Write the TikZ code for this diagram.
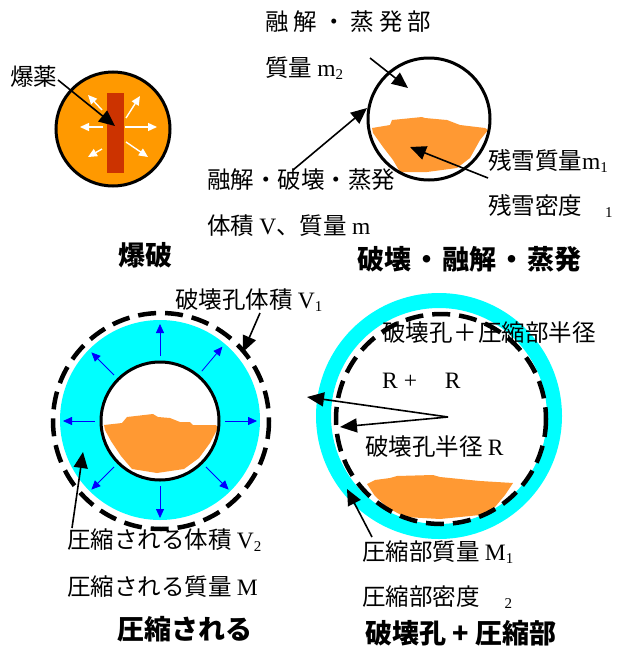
\documentclass[tikz,border=0pt]{standalone}
\usepackage{fontspec}
\usetikzlibrary{arrows.meta}
\newfontfamily\jp{Noto Sans CJK JP}
\newfontfamily\lat{Liberation Serif}
\definecolor{bomb}{HTML}{FF9900}
\definecolor{charge}{HTML}{CC3300}
\definecolor{snow}{HTML}{FF9933}
\definecolor{ice}{HTML}{00FFFF}
\newcommand{\lt}[1]{{\lat #1}}
\newcommand{\lsub}[1]{\raisebox{-0.12em}{\lat\fontsize{15}{15}\selectfont #1}}
\tikzset{
  lbl/.style={anchor=west, inner sep=0pt, font=\jp\fontsize{23.5}{23.5}\selectfont},
  ttl/.style={anchor=west, inner sep=0pt, font=\jp\bfseries\fontsize{27}{27}\selectfont},
  bigarrow/.style={-{Triangle[length=16pt,width=14pt]}, line width=1.6pt},
  wht/.style={white, line width=1.4pt, -{Triangle[length=9pt,width=8pt]}},
  blu/.style={blue, line width=0.8pt, -{Triangle[length=9pt,width=8pt]}},
  holeline/.style={line width=4.5pt, dash pattern=on 18pt off 9pt},
}
\begin{document}
\begin{tikzpicture}[x=1pt,y=-1pt]
\useasboundingbox (0,0) rectangle (618,648);

% ---------- explosive charge ----------
\fill[bomb] (113,129) circle (57);
\draw[line width=3pt] (113,129) circle (57);
\fill[charge] (107,93) rectangle (124,173);
\foreach \a/\b/\c/\d in {103/127/80/127, 125/127/157/127, 102/110/88/95,
                         126/118/140/96, 102/149/88/157, 126/142/148/157}{
  \coordinate (ws) at (\a,\b);
  \coordinate (we) at (\c,\d);
  \draw[wht] (ws) -- (we);
}
\node[lbl] (bakuyaku) at (10,77) {爆薬};
\coordinate (bakuyakuS) at (58,80);
\coordinate (bakuyakuE) at (115,126);
\draw[bigarrow] (bakuyakuS) -- (bakuyakuE);
\node[ttl] (bakuha) at (118,255) {爆破};

% ---------- fracture, melting, evaporation ----------
\begin{scope}[shift={(429,119)}]
  \fill[snow] (-57,9) -- (-39,6) -- (-37,1) -- (-7,-2) -- (-4,-1) -- (18,1)
    -- (31,6) -- (56,9) -- (59,11) -- (51,21) -- (41,39) -- (28,49)
    -- (-2,53) -- (-29,53) -- (-36,41) -- (-46,28) -- (-56,14) -- cycle;
\end{scope}
\draw[line width=3pt] (429,119) circle (61);

\node[lbl] (meltpart) at (265,22) {融\hspace{5pt}解\hspace{5pt}・\hspace{5pt}蒸\hspace{5pt}発\hspace{5pt}部};
\node[lbl] (massm2) at (265,68) {質量 \lt{m}\lsub{2}};
\coordinate (m2S) at (370,58);
\coordinate (m2E) at (408,88);
\draw[bigarrow] (m2S) -- (m2E);

\node[lbl] (process) at (207,180) {融解・破壊・蒸発};
\node[lbl] (volm) at (207,226) {体積 \lt{V}、質量 \lt{m}};
\coordinate (procS) at (293,170);
\coordinate (procE) at (367,108);
\draw[bigarrow] (procS) -- (procE);

\node[lbl] (resmass) at (488,161) {残雪質量\lt{m}\lsub{1}};
\node[lbl] (resdens) at (488,206) {残雪密度\hspace{23pt}\lsub{1}};
\coordinate (resS) at (488,178);
\coordinate (resE) at (410,147);
\draw[bigarrow] (resS) -- (resE);

\node[ttl] (title2) at (357,259) {破壊\hspace{2pt}・\hspace{2pt}融解\hspace{2pt}・\hspace{2pt}蒸発};

% ---------- compressed zone ----------
\fill[ice] (160,420) circle (100);
\fill[white] (160,421) circle (59);
\begin{scope}[shift={(160,421)}]
  \fill[snow] (-56,4) -- (-38,2) -- (-33,-4) -- (-7,-7) -- (-2,-4) -- (10,-3)
    -- (20,1) -- (30,1) -- (33,4) -- (56,4) -- (58,7) -- (50,22) -- (39,37)
    -- (24,48) -- (-3,52) -- (-28,48) -- (-39,35) -- (-49,20) -- (-55,9) -- cycle;
\end{scope}
\draw[line width=3pt] (160,421) circle (59);
\foreach \ang in {90,45,0,-45,-90,-135,180,130}{
  \coordinate (bs) at ([shift={(\ang:-65)}]160,421);
  \coordinate (be) at ([shift={(\ang:-97)}]160,421);
  \draw[blu] (bs) -- (be);
}
\draw[holeline] (161,421) circle (108);

\node[lbl] (holevol) at (175,300) {破壊孔体積 \lt{V}\lsub{1}};
\coordinate (hvS) at (260,313);
\coordinate (hvE) at (243,352);
\draw[bigarrow] (hvS) -- (hvE);

\node[lbl] (compvol) at (67,540) {圧縮される体積 \lt{V}\lsub{2}};
\node[lbl] (compmass) at (67,587) {圧縮される質量 \lt{M}};
\coordinate (cvS) at (72,528);
\coordinate (cvE) at (83,452);
\draw[bigarrow] (cvS) -- (cvE);
\node[ttl] (title3) at (117,629) {圧縮される};

% ---------- hole plus compressed zone ----------
\draw[ice, line width=15pt] (439,416) circle (115.5);
\fill[snow] (367,484) -- (375,480) -- (390,478) -- (397,476) -- (433,475)
  -- (440,477) -- (480,481) -- (513,483) -- (505,495) -- (495,507) -- (480,515)
  -- (440,519) -- (405,517) -- (388,508) -- (375,496) -- cycle;
\draw[holeline] (441,419) circle (105);

\node[lbl] (radtot) at (382,333) {破壊孔\hspace{1pt}＋\hspace{1pt}圧縮部半径};
\node[lbl] (rdr) at (382,381) {\lt{R +}\hspace{28pt}\lt{R}};
\node[lbl] (radhole) at (365,447) {破壊孔半径 \lt{R}};
\coordinate (rc) at (448,417);
\coordinate (rOut) at (307,397);
\coordinate (rIn) at (340,427);
\draw[-{Triangle[length=17pt,width=14pt]}, line width=1.6pt] (rc) -- (rOut);
\draw[-{Triangle[length=17pt,width=14pt]}, line width=1.6pt] (rc) -- (rIn);

\node[lbl] (compmass1) at (362,552) {圧縮部質量 \lt{M}\lsub{1}};
\node[lbl] (compdens) at (362,597) {圧縮部密度\hspace{25pt}\lsub{2}};
\coordinate (cmS) at (372,537);
\coordinate (cmE) at (347,489);
\draw[bigarrow] (cmS) -- (cmE);
\node[ttl] (title4) at (365,633) {破壊孔 + 圧縮部};
\end{tikzpicture}
\end{document}
